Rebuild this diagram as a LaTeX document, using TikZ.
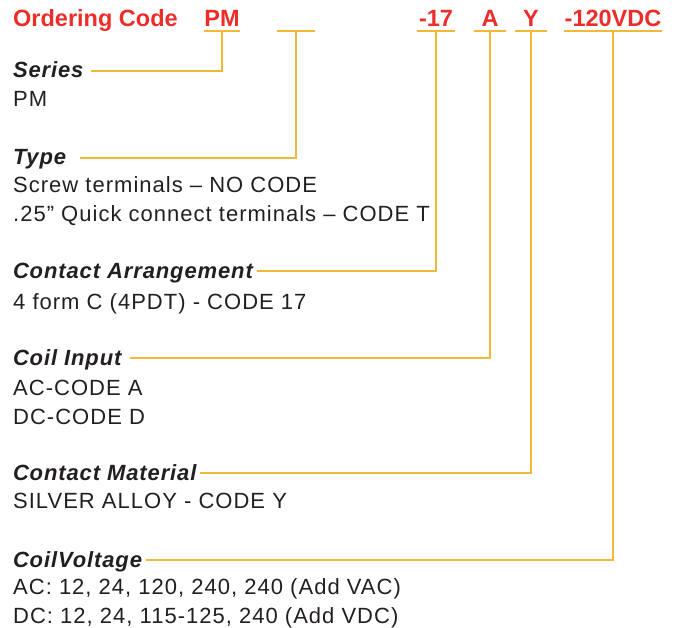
\documentclass[tikz,border=0pt]{standalone}
\usepackage{fontspec}
\setmainfont{Liberation Sans}
\usepackage{xcolor}
\usepackage{tikz}
\usetikzlibrary{calc,positioning}

\definecolor{ordred}{RGB}{237,45,42}
\definecolor{leadgold}{RGB}{242,184,58}
\definecolor{inkdark}{RGB}{35,31,32}

\newcommand{\lines}[1]{\begin{tabular}[t]{@{}l@{}}#1\end{tabular}}

\tikzset{
  code/.style={font=\fontsize{23.5}{26}\selectfont\bfseries,text=ordred,
    inner xsep=0pt,inner ysep=4pt,text height=17pt,text depth=0pt,anchor=base},
  head/.style={font=\fontsize{22}{26}\selectfont\bfseries\itshape\addfontfeature{LetterSpace=4},
    text=inkdark,inner xsep=0pt,outer xsep=4pt,inner ysep=0pt,text height=16pt,text depth=2pt,anchor=base west},
  body/.style={font=\fontsize{22}{29}\selectfont\addfontfeature{LetterSpace=4.6},
    text=inkdark,inner sep=0pt,anchor=base west},
  lead/.style={leadgold,line width=2pt}
}

\begin{document}
\begin{tikzpicture}[x=1pt,y=-1pt]
  \useasboundingbox (0,0) rectangle (674,628);

  \node[code,anchor=base west] (title) at (13,27) {Ordering Code};
  \foreach \n/\x/\w/\lab in {pm/222/36/PM, typ/296/38/{}, arr/436/38/-17,
     inp/490/31/A, mat/531/31/Y, volt/613/93/-120VDC}
  { \node[code,minimum width=\w pt] (c\n) at (\x,27) {\lab};
    \draw[lead] (c\n.south west) -- (c\n.south east); }

  % headings, with the gap before each leader
  \foreach \n/\y/\g/\lab in {pm/78/4/Series, typ/165/10/Type, arr/278/0/Contact Arrangement,
     inp/365/5/Coil Input, mat/480/0/Contact Material, volt/567/0/CoilVoltage}
  { \node[head] (h\n) at (9,\y) {\lab};
    \draw[lead] (c\n.south) |- ([xshift=\g pt]h\n.east); }

  \node[body] (bpm) at (13,107) {PM};
  \node[body] (btyp) at (13,193) {\lines{Screw terminals – NO CODE\\.25” Quick connect terminals – CODE T}};
  \node[body] (barr) at (13,309) {4 form C (4PDT) - CODE 17};
  \node[body] (binp) at (13,395) {\lines{AC-CODE A\\DC-CODE D}};
  \node[body] (bmat) at (13,508) {SILVER ALLOY - CODE Y};
  \node[body] (bvolt) at (13,594) {\lines{AC: 12, 24, 120, 240, 240 (Add VAC)\\DC: 12, 24, 115-125, 240 (Add VDC)}};
\end{tikzpicture}
\end{document}
